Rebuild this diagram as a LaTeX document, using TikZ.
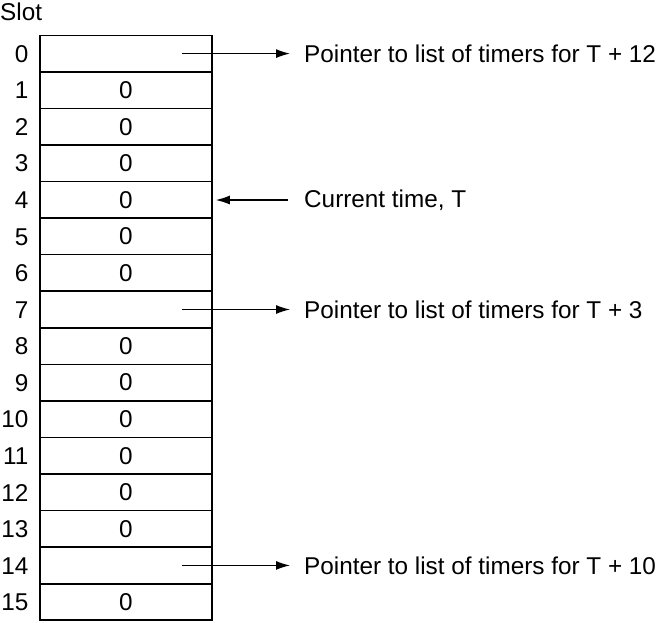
\documentclass[tikz,border=0pt]{standalone}
\usepackage{fontspec}
\setmainfont{Liberation Sans}
\usetikzlibrary{arrows.meta}
\begin{document}
\begin{tikzpicture}[x=1pt,y=-1pt,
  every node/.style={font=\fontsize{24.3}{29}\selectfont, inner sep=0pt},
  cell/.style={draw, line width=1.6pt, minimum width=172pt, minimum height=36.56pt},
  slotnum/.style={anchor=base east},
  note/.style={anchor=west},
  ptr/.style={line width=1.3pt, -{Latex[length=14pt,width=9pt]}}]
  \useasboundingbox (0,0) rectangle (656,622);
  \node[anchor=base west] (slot) at (0,20) {Slot};
  % timer wheel: sixteen slots
  \foreach \i/\v in {0/,1/0,2/0,3/0,4/0,5/0,6/0,7/,8/0,9/0,10/0,11/0,12/0,13/0,14/,15/0} {
    \pgfmathsetmacro{\cy}{35.3+(\i+0.5)*36.56}
    \node[cell] (r\i) at (126,\cy) {\v};
    \node[slotnum] (n\i) at (28.5,\cy+8.7) {\i};
  }
  % pointers out of the occupied slots
  \foreach \i/\t in {0/Pointer to list of timers for T + 12,
                     7/Pointer to list of timers for T + 3,
                     14/Pointer to list of timers for T + 10} {
    \coordinate (s\i) at ([xshift=56pt]r\i.center);
    \node[note] (l\i) at ([xshift=122pt]s\i) {\t};
    \draw[ptr, shorten >=14pt] (s\i) -- (l\i.west);
  }
  % current time marker
  \node[note] (cur) at (304,200) {Current time, T};
  \draw[ptr, shorten <=16pt, shorten >=3pt] (cur.west) -- (r4.east |- cur.west);
\end{tikzpicture}
\end{document}
